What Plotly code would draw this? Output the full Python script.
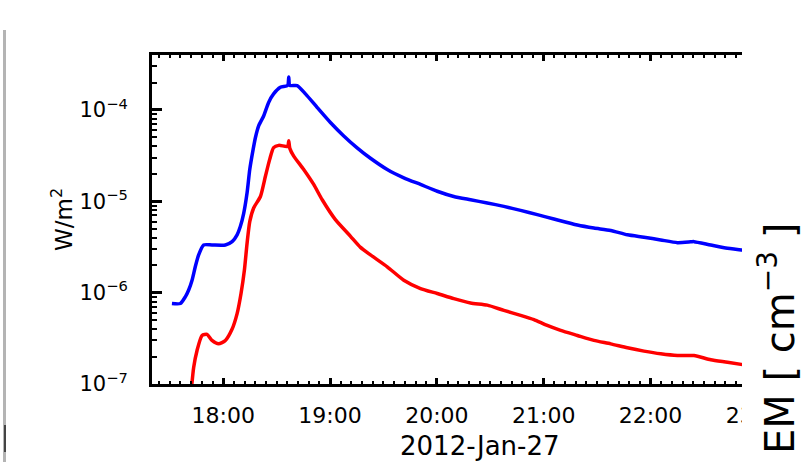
import math
import plotly.graph_objects as go

DATE = "2012-01-27"

# GOES 1-8 A (blue)
blue_time = ["17:31:12", "17:35:54", "17:38:42", "17:40:36", "17:42:30", "17:44:18", "17:46:12",
             "17:49:00", "17:53:42", "18:01:12", "18:05:00", "18:07:48", "18:09:36", "18:11:30",
             "18:13:24", "18:14:54", "18:16:48", "18:18:06", "18:19:54", "18:22:42", "18:25:30",
             "18:28:18", "18:32:06", "18:36:12", "18:36:48", "18:37:24", "18:41:30", "18:46:12",
             "18:52:42", "19:00:12", "19:07:42", "19:15:12", "19:22:42", "19:32:06", "19:41:24",
             "19:50:48", "20:00:12", "20:09:30", "20:18:54", "20:28:18", "20:37:36", "20:47:00",
             "20:56:24", "21:05:42", "21:18:54", "21:28:12", "21:37:36", "21:47:00", "21:56:18",
             "22:05:42", "22:15:06", "22:22:36", "22:24:24", "22:33:48", "22:43:12", "22:53:30"]
blue_flux = [7.6e-7, 7.6e-7, 9.0e-7, 1.07e-6, 1.37e-6, 1.92e-6, 2.59e-6,
             3.33e-6, 3.33e-6, 3.33e-6, 3.62e-6, 4.3e-6, 5.3e-6, 7.4e-6,
             1.24e-5, 2.23e-5, 3.7e-5, 5.0e-5, 6.7e-5, 8.6e-5, 1.21e-4,
             1.50e-4, 1.77e-4, 1.86e-4, 2.29e-4, 1.86e-4, 1.85e-4, 1.50e-4,
             1.07e-4, 7.3e-5, 5.2e-5, 3.85e-5, 2.96e-5, 2.23e-5, 1.81e-5,
             1.53e-5, 1.29e-5, 1.13e-5, 1.04e-5, 9.6e-6, 8.8e-6, 7.96e-6,
             7.15e-6, 6.4e-6, 5.5e-6, 5.1e-6, 4.8e-6, 4.3e-6, 4.05e-6,
             3.78e-6, 3.53e-6, 3.6e-6, 3.62e-6, 3.33e-6, 3.07e-6, 2.9e-6]

# GOES 0.5-4 A (red)
red_time = ["17:41:48", "17:43:24", "17:45:18", "17:48:06", "17:50:54", "17:53:42", "17:57:24",
            "18:01:12", "18:05:00", "18:07:48", "18:10:00", "18:11:54", "18:13:24", "18:14:54",
            "18:17:06", "18:20:54", "18:23:42", "18:26:06", "18:28:18", "18:31:12", "18:36:12",
            "18:36:48", "18:37:24", "18:39:36", "18:45:12", "18:50:48", "18:55:36", "19:03:00",
            "19:11:30", "19:17:06", "19:22:42", "19:32:06", "19:41:24", "19:50:48", "20:00:12",
            "20:09:30", "20:18:54", "20:28:18", "20:37:36", "20:47:00", "20:54:30", "21:01:36",
            "21:09:30", "21:18:54", "21:28:12", "21:37:36", "21:47:00", "21:56:18", "22:05:42",
            "22:15:06", "22:24:24", "22:33:48", "22:43:12", "22:53:30"]
red_flux = [7.5e-8, 1.52e-7, 2.33e-7, 3.4e-7, 3.5e-7, 3.0e-7, 2.75e-7,
            3.0e-7, 4.0e-7, 5.9e-7, 9.8e-7, 1.77e-6, 3.48e-6, 6.0e-6,
            8.45e-6, 1.13e-5, 1.88e-5, 2.88e-5, 3.87e-5, 4.1e-5, 4.0e-5,
            4.6e-5, 3.8e-5, 3.13e-5, 2.23e-5, 1.53e-5, 1.04e-5, 6.3e-6,
            4.14e-6, 3.13e-6, 2.59e-6, 1.92e-6, 1.37e-6, 1.11e-6, 9.8e-7,
            8.6e-7, 7.7e-7, 7.3e-7, 6.4e-7, 5.65e-7, 5.07e-7, 4.4e-7,
            3.86e-7, 3.4e-7, 3.0e-7, 2.75e-7, 2.49e-7, 2.29e-7, 2.14e-7,
            2.05e-7, 2.05e-7, 1.84e-7, 1.73e-7, 1.61e-7]

y_tick_vals = [1e-7, 1e-6, 1e-5, 1e-4]
y_tick_text = ["10<sup>\u22127</sup>", "10<sup>\u22126</sup>", "10<sup>\u22125</sup>", "10<sup>\u22124</sup>"]
x_title = "2012-Jan-27"
y_title = "W/m<sup>2</sup>"
right_label = "EM [ cm<sup>\u22123</sup> ]"

W, H = 806, 462
L, R, T, B = 152, 13, 55, 78
PW, PH = W - L - R, H - T - B


def px(x):
    return (x - L) / PW


def py(y):
    return (H - B - y) / PH


FONT = "DejaVu Sans"

fig = go.Figure()
fig.add_trace(go.Scatter(x=[f"{DATE} {t}" for t in blue_time], y=blue_flux, mode="lines",
                         line=dict(color="#0000ff", width=3.5, shape="spline", smoothing=0.6),
                         showlegend=False))
fig.add_trace(go.Scatter(x=[f"{DATE} {t}" for t in red_time], y=red_flux, mode="lines",
                         line=dict(color="#ff0000", width=3.5, shape="spline", smoothing=0.6),
                         showlegend=False))

minor_vals = [k * 10.0 ** e for e in range(-8, -3) for k in range(2, 10)]

fig.update_layout(
    width=W, height=H,
    margin=dict(l=L, r=R, t=T, b=B),
    paper_bgcolor="white", plot_bgcolor="white",
    xaxis=dict(
        type="date",
        range=[f"{DATE} 17:20", f"{DATE} 23:20"],
        tickmode="linear", tick0=f"{DATE} 18:00", dtick=3600000, tickformat="%H:%M",
        ticks="inside", ticklen=6, tickwidth=2.5, tickcolor="black",
        minor=dict(ticks="inside", ticklen=3, tickwidth=2, tickcolor="black",
                   tickmode="linear", tick0=f"{DATE} 17:00", dtick=360000, showgrid=False),
        showline=True, linewidth=3, linecolor="black", mirror="ticks",
        showgrid=False, zeroline=False,
        ticklabelstandoff=10,
        tickfont=dict(family=FONT, size=22, color="black"),
    ),
    yaxis=dict(
        type="log",
        range=[-7, math.log10(4e-4)],
        tickmode="array", tickvals=y_tick_vals, ticktext=y_tick_text,
        ticks="inside", ticklen=10, tickwidth=2.5, tickcolor="black",
        minor=dict(tickmode="array", tickvals=minor_vals, ticks="inside", ticklen=5,
                   tickwidth=2, tickcolor="black", showgrid=False),
        showline=True, linewidth=3, linecolor="black", mirror=False,
        showgrid=False, zeroline=False,
        ticklabelstandoff=17,
        tickfont=dict(family=FONT, size=21, color="black"),
    ),
    shapes=[
        dict(type="rect", xref="paper", yref="paper", x0=px(742), x1=px(W + 5), y0=py(H + 5), y1=py(-5),
             fillcolor="white", line=dict(width=0), layer="above"),
        dict(type="line", xref="paper", yref="paper", x0=px(4.5), x1=px(4.5), y0=py(30), y1=py(H),
             line=dict(color="#b4b4b4", width=3), layer="above"),
        dict(type="line", xref="paper", yref="paper", x0=px(5), x1=px(5), y0=py(425), y1=py(452),
             line=dict(color="#444444", width=2), layer="above"),
    ],
    annotations=[
        dict(text=x_title, xref="paper", yref="paper", x=px(480), y=py(446),
             xanchor="center", yanchor="middle", showarrow=False,
             font=dict(family=FONT, size=26, color="black")),
        dict(text=y_title, xref="paper", yref="paper", x=px(62), y=py(220), textangle=-90,
             xanchor="center", yanchor="middle", showarrow=False,
             font=dict(family=FONT, size=23, color="black")),
        dict(text=right_label, xref="paper", yref="paper", x=px(777), y=py(339), textangle=-90,
             xanchor="center", yanchor="middle", showarrow=False,
             font=dict(family=FONT, size=40, color="black")),
    ],
)

fig.write_html("out.html")
